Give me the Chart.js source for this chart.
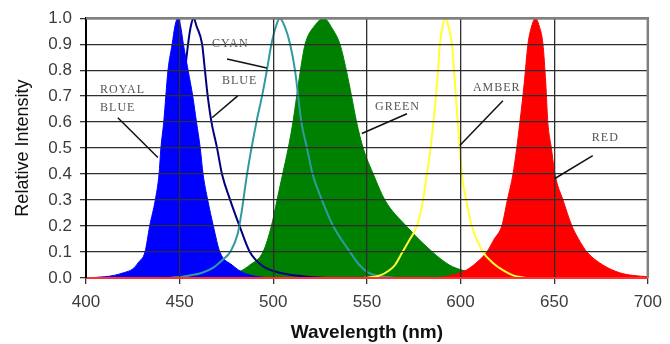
<!DOCTYPE html>
<html>
<head>
<meta charset="utf-8">
<script src="https://cdn.jsdelivr.net/npm/chart.js@4/dist/chart.umd.min.js"></script>
<style>
	body { margin: 0; background: #fff; }
</style>
</head>
<body>
<canvas id="chart" width="670" height="344"></canvas>
<script>
// spectra (wavelength in nm, relative intensity)
const royalBlueNm = [400, 410, 415, 420, 425, 428, 431.5, 434, 437, 439, 440, 441.5, 443.8, 446, 447.5, 449, 450.5, 452, 454.5, 457, 459, 461, 462.5, 465, 468, 471.5, 478, 484, 492, 500];
const royalBlueVal = [0, 0.005, 0.01, 0.02, 0.035, 0.06, 0.1, 0.2, 0.3, 0.4, 0.5, 0.6, 0.8, 0.9, 0.97, 1.0, 0.97, 0.9, 0.8, 0.7, 0.6, 0.5, 0.4, 0.3, 0.2, 0.1, 0.05, 0.02, 0.005, 0];

const blueNm = [425, 435, 442, 447, 450.5, 453, 454.5, 456, 457.5, 459, 462, 463.5, 465, 467, 470, 472.6, 477, 482, 487.5, 494.5, 503.6, 518, 530];
const blueVal = [0, 0.03, 0.1, 0.25, 0.5, 0.8, 0.9, 0.97, 1.0, 0.97, 0.9, 0.8, 0.7, 0.6, 0.5, 0.4, 0.3, 0.2, 0.1, 0.045, 0.02, 0.005, 0];

const cyanNm = [445, 454, 462, 468, 473, 477, 481, 483, 486, 491, 494, 496.6, 499, 501.5, 503.5, 506, 509, 511.6, 515, 518, 521, 526, 532, 541, 546, 551, 565];
const cyanVal = [0, 0.008, 0.02, 0.04, 0.07, 0.1, 0.17, 0.25, 0.4, 0.6, 0.7, 0.8, 0.9, 0.97, 1.0, 0.97, 0.9, 0.8, 0.6, 0.5, 0.4, 0.3, 0.2, 0.1, 0.05, 0.02, 0];

const greenNm = [455, 465, 475, 482, 487.5, 494.5, 499, 502, 505, 508, 510.5, 512.5, 514.5, 517, 522, 527, 531.5, 535.6, 539, 541.8, 544.5, 548, 553.4, 559.6, 571, 585, 594, 601, 612, 625, 640];
const greenVal = [0, 0.005, 0.012, 0.025, 0.05, 0.1, 0.2, 0.3, 0.4, 0.5, 0.6, 0.7, 0.8, 0.9, 0.97, 1.0, 0.96, 0.9, 0.8, 0.7, 0.6, 0.5, 0.4, 0.3, 0.2, 0.1, 0.05, 0.03, 0.015, 0.007, 0];

const amberNm = [548, 557, 562, 565, 569, 573, 576.7, 580, 582, 584, 585.5, 587.5, 589, 590.5, 592, 593.5, 595.4, 597, 598.5, 599.7, 600.7, 603, 606, 612, 617, 622.6, 628, 635];
const amberVal = [0, 0.01, 0.03, 0.05, 0.1, 0.15, 0.2, 0.3, 0.4, 0.5, 0.6, 0.75, 0.9, 0.97, 1.0, 0.97, 0.9, 0.75, 0.6, 0.5, 0.4, 0.3, 0.2, 0.1, 0.06, 0.03, 0.01, 0];

const redNm = [400, 585, 595, 603, 607, 614, 618, 622, 625, 628, 630, 631.7, 634, 636, 638, 640, 642, 644, 645.5, 646.6, 648.5, 650.4, 654.7, 659.5, 663, 667.5, 676, 685, 692, 700];
const redVal = [0, 0, 0.01, 0.03, 0.05, 0.1, 0.15, 0.2, 0.3, 0.4, 0.5, 0.6, 0.75, 0.9, 0.97, 1.0, 0.97, 0.9, 0.75, 0.6, 0.5, 0.4, 0.3, 0.2, 0.15, 0.1, 0.05, 0.02, 0.01, 0.005];

// callout labels: text anchor and pointer ends, in data units
const calloutText = [["ROYAL", "BLUE"], ["BLUE"], ["CYAN"], ["GREEN"], ["AMBER"], ["RED"]];
const calloutAt = [[407.5, 0.724], [472.6, 0.759], [467.3, 0.9], [554.3, 0.659], [606.6, 0.732], [670.1, 0.54]];
const pointerFrom = [[417, 0.617], [481, 0.701], [475.3, 0.843], [571.4, 0.632], [622.6, 0.682], [670.6, 0.471]];
const pointerTo = [[438.4, 0.464], [467.3, 0.617], [496.6, 0.808], [547.3, 0.556], [599.6, 0.51], [650.4, 0.383]];

const sans = "'Liberation Sans', Arial, sans-serif";

const toPoints = (nm, val) => nm.map((x, i) => ({ x, y: val[i] }));

// higher order is painted first (further back)
const filled = (nm, val, color, order) => ({
	data: toPoints(nm, val),
	borderColor: color,
	backgroundColor: color,
	borderWidth: 1,
	fill: "origin",
	order,
});

const outline = (nm, val, color, order) => ({
	data: toPoints(nm, val),
	borderColor: color,
	borderWidth: 2,
	fill: false,
	order,
});

const frameAndCallouts = {
	id: "frameAndCallouts",
	afterDraw(chart) {
		const { ctx, chartArea, scales } = chart;
		const px = (p) => [scales.x.getPixelForValue(p[0]), scales.y.getPixelForValue(p[1])];
		ctx.save();
		ctx.strokeStyle = "#808080";
		ctx.lineWidth = 2.5;
		ctx.beginPath();
		ctx.moveTo(chartArea.left, chartArea.top);
		ctx.lineTo(chartArea.right, chartArea.top);
		ctx.lineTo(chartArea.right, chartArea.bottom);
		ctx.stroke();

		ctx.strokeStyle = "#111";
		ctx.lineWidth = 1.5;
		pointerFrom.forEach((from, i) => {
			const a = px(from);
			const b = px(pointerTo[i]);
			ctx.beginPath();
			ctx.moveTo(a[0], a[1]);
			ctx.lineTo(b[0], b[1]);
			ctx.stroke();
		});

		ctx.fillStyle = "#555";
		ctx.font = "12px 'Liberation Serif', 'Times New Roman', serif";
		ctx.letterSpacing = "1px";
		ctx.textBaseline = "middle";
		ctx.textAlign = "left";
		calloutText.forEach((lines, i) => {
			const p = px(calloutAt[i]);
			lines.forEach((t, j) => ctx.fillText(t, p[0], p[1] + j * 18));
		});
		ctx.restore();
	},
};

new Chart(document.getElementById("chart"), {
	type: "line",
	data: {
		datasets: [
			filled(greenNm, greenVal, "#008000", 6),
			outline(blueNm, blueVal, "#000080", 5),
			filled(royalBlueNm, royalBlueVal, "#0000ff", 4),
			filled(redNm, redVal, "#ff0000", 3),
			outline(cyanNm, cyanVal, "#2f9aa0", 2),
			outline(amberNm, amberVal, "#ffff33", 1),
		],
	},
	options: {
		responsive: false,
		animation: false,
		layout: {
			padding: { top: 17, right: 22, left: 0, bottom: 0 },
		},
		elements: {
			point: { radius: 0 },
			line: { cubicInterpolationMode: "monotone" },
		},
		plugins: {
			legend: { display: false },
			tooltip: { enabled: false },
		},
		scales: {
			x: {
				type: "linear",
				min: 400,
				max: 700,
				ticks: {
					stepSize: 50,
					color: "#3c3c3c",
					font: { family: sans, size: 17 },
					padding: 8,
				},
				grid: { z: 1, color: "#2e2e2e", lineWidth: 1.3, tickLength: 6, tickColor: "#333" },
				border: { z: 1, color: "#ff3030", width: 2 },
				title: {
					display: true,
					text: "Wavelength (nm)",
					color: "#111",
					font: { family: sans, size: 19, weight: "bold" },
					padding: { top: 0, bottom: 0 },
				},
				afterFit: (scale) => {
					scale.height = 66;
				},
			},
			y: {
				min: 0,
				max: 1,
				ticks: {
					stepSize: 0.1,
					color: "#3c3c3c",
					font: { family: sans, size: 17 },
					padding: 8,
					callback: (v) => v.toFixed(1),
				},
				grid: {
					z: 1,
					color: (c) => (c.tick && c.tick.value === 0 ? "rgba(0,0,0,0)" : "#2e2e2e"),
					lineWidth: 1.3,
					tickLength: 6,
					tickColor: "#333",
				},
				border: { z: 1, color: "#000", width: 2 },
				title: {
					display: true,
					text: "Relative Intensity",
					color: "#111",
					font: { family: sans, size: 18 },
					padding: { top: 12, bottom: 0 },
				},
				afterFit: (scale) => {
					scale.width = 86;
				},
			},
		},
	},
	plugins: [frameAndCallouts],
});
</script>
</body>
</html>
